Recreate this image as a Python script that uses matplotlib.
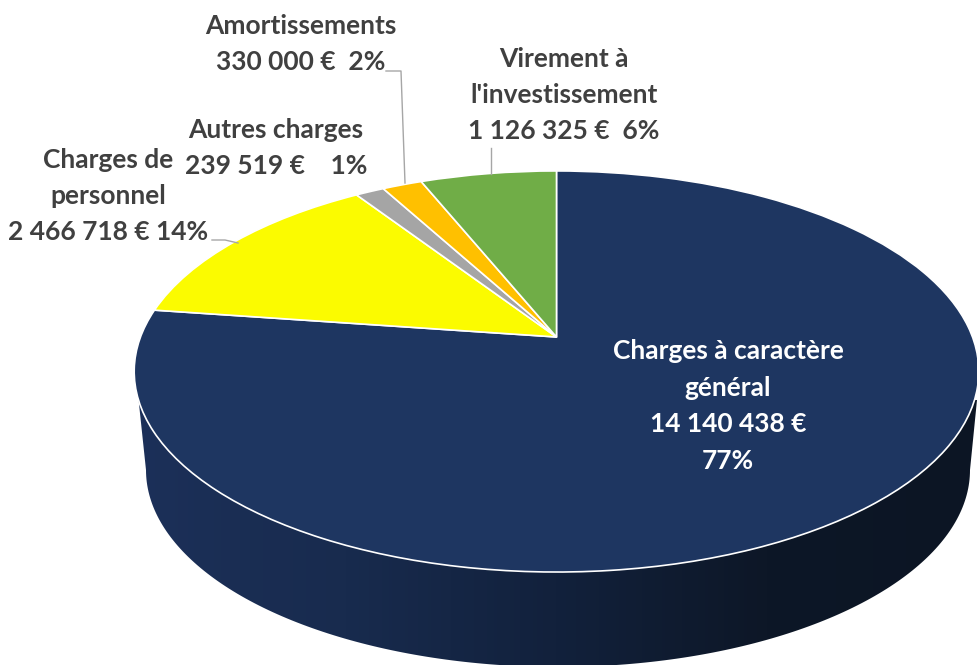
import numpy as np
import matplotlib
matplotlib.use("Agg")
import matplotlib.pyplot as plt
from matplotlib.colors import LinearSegmentedColormap
from matplotlib.patches import Polygon
from matplotlib.transforms import Transform

plt.rcParams["font.family"] = ["Lato", "DejaVu Sans"]

values = [14140438, 2466718, 239519, 330000, 1126325]
colors = ["#1E3661", "#FBFB00", "#A5A5A5", "#FFC000", "#70AD47"]
wall_colors = ["#1C3059", "#182B4E", "#12213C", "#0D1727", "#0C1524"]

labels = [
    ("Amortissements\n330 000 €  2%", 301, 44, "#404040"),
    ("Virement à\nl'investissement\n1 126 325 €  6%", 564, 95, "#404040"),
    ("Autres charges\n239 519 €    1%", 276, 148, "#404040"),
    ("Charges de\npersonnel\n2 466 718 € 14%", 108, 196, "#404040"),
    ("Charges à caractère\ngénéral\n14 140 438 €\n77%", 728, 406, "#FFFFFF"),
]

leaders = [
    ([386, 401, 405], [71, 71, 183]),
    ([491, 491], [148, 174]),
    ([212, 225, 238], [240, 240, 243]),
]


class PiePerspective(Transform):
    """Unit circle to the tilted top face, in pixels of the picture."""
    input_dims = 2
    output_dims = 2

    def transform_non_affine(self, xy):
        xy = np.asarray(xy, dtype=float)
        w = 1 + 0.172 * xy[:, 1]
        return np.column_stack([556.5 + 416 * xy[:, 0] / w, 337 - 194.6 * xy[:, 1] / w])


fig = plt.figure(figsize=(9.78, 6.65), dpi=100, facecolor="white")
ax = fig.add_axes([0, 0, 1, 1])

# side wall: lower outline of the pie, filled with a left to right gradient
t = np.linspace(np.pi, 0, 200)
wall_x = np.r_[137, 558 + 412 * np.cos(t), 977]
wall_y = np.r_[385, 470 + 197 * np.sin(t), 400]
wall = Polygon(np.column_stack([wall_x, wall_y]), closed=True, fc="none", ec="none")
ax.add_patch(wall)
cmap = LinearSegmentedColormap.from_list("wall", wall_colors)
im = ax.imshow(np.linspace(0, 1, 256)[None, :], extent=(135, 978, 670, 370),
               cmap=cmap, aspect="auto", zorder=1)
im.set_clip_path(wall)

wedges, _ = ax.pie(values, colors=colors, startangle=90, counterclock=False,
                   wedgeprops={"edgecolor": "white", "linewidth": 1.2, "zorder": 2})
persp = PiePerspective()
for w in wedges:
    w.set_transform(persp + ax.transData)
    w.set_zorder(2)

for xs, ys in leaders:
    ax.plot(xs, ys, color="#A6A6A6", linewidth=1, zorder=3)

for text, x, y, col in labels:
    ax.text(x, y, text, color=col, fontsize=19, fontweight="bold", ha="center",
            va="center", linespacing=1.62, zorder=4)

ax.set_aspect("auto")
ax.set_xlim(0, 978)
ax.set_ylim(665, 0)
ax.axis("off")

fig.savefig("out.png", dpi=100, facecolor="white")
